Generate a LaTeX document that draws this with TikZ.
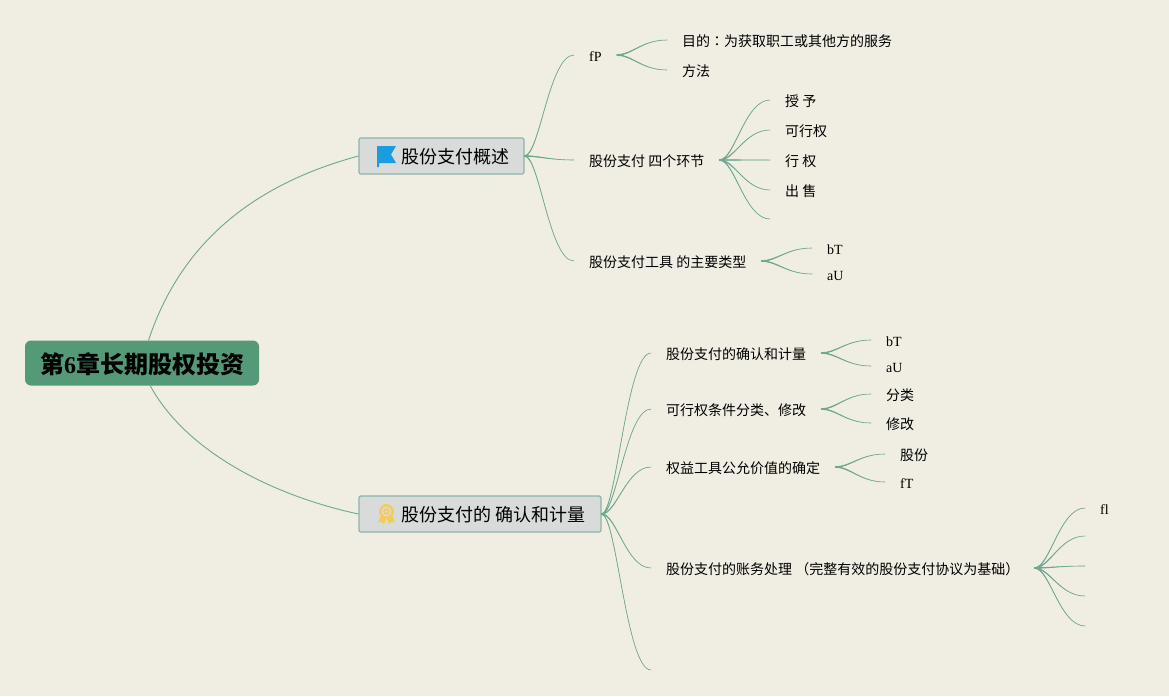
\documentclass[tikz,border=0pt]{standalone}
\usepackage{fontspec}
\usepackage{xcolor}
\usetikzlibrary{calc}
\setmainfont{Liberation Serif}
\newfontfamily\cjk{Noto Sans CJK SC}
\newfontfamily\cjktc{Noto Sans CJK TC}
\definecolor{paper}{HTML}{F0EDE3}
\definecolor{twig}{HTML}{6FA78F}
\definecolor{rootgreen}{HTML}{559A78}
\definecolor{topicgray}{HTML}{D8DBDA}
\definecolor{topicline}{HTML}{8DB4A8}
\definecolor{flagblue}{HTML}{1C9CE0}
\definecolor{medalgold}{HTML}{F3CB55}
\tikzset{
    rootbox/.style={rectangle, rounded corners=6pt, fill=rootgreen, minimum width=234pt, minimum height=45pt, inner sep=0pt, text height=22pt, text depth=1pt, font=\fontsize{24}{28}\selectfont\bfseries},
    topicbox/.style={rectangle, rounded corners=2pt, draw=topicline, line width=1.2pt, fill=topicgray, minimum height=36pt, inner sep=0pt, text height=15pt, text depth=1pt, font=\fontsize{18}{22}\selectfont\cjk},
    leaf/.style={anchor=west, inner xsep=15pt, inner ysep=0pt, text height=14pt, text depth=2pt, font=\fontsize{14}{16}\selectfont},
    leafcn/.style={leaf, font=\fontsize{14}{16}\selectfont\cjk},
    twigline/.style={twig, line width=0.6pt},
    mainline/.style={twig, line width=0.9pt}
}
\begin{document}
\begin{tikzpicture}[x=1pt, y=-1pt]
        \useasboundingbox (0, 0) rectangle (1169, 696);
        \fill[paper] (0, 0) rectangle (1169, 696);

        % root and main topics
        \node[rootbox] (root) at (142, 363) {{\cjk 第}6{\cjk 章长期股权投资}};
        \node[topicbox, minimum width=165pt] (topic1) at (441.5, 156) {\hspace{27pt}股份支付概述};
        \node[topicbox, minimum width=242pt] (topic2) at (480, 514) {\hspace{27pt}股份支付的 确认和计量};

        % icons
        \fill[flagblue] (377, 146) -- (396, 146) -- (391, 154.5) -- (396, 163) -- (379, 163) -- (379, 167) -- (377, 167) -- cycle;
        \draw[medalgold, line width=2.4pt] (386.5, 511.5) circle (6.2);
        \draw[medalgold, line width=1.6pt] (386.5, 511.5) circle (2.4);
        \fill[medalgold] (381, 516) -- (378, 522) -- (382, 522) -- (384, 524) -- (386, 519) -- cycle;
        \fill[medalgold] (392, 516) -- (395, 522) -- (391, 522) -- (389, 524) -- (387, 519) -- cycle;

        % first topic
        \begin{scope}[name prefix=intro-]
            \node[leaf] (fp) at (574, 55) {fP};
            \node[leafcn] (fp1) at (667, 40) {目的{\cjktc ：}为获取职工或其他方的服务};
            \node[leafcn] (fp2) at (667, 70) {方法};
            \node[leafcn] (steps) at (574, 160) {股份支付 四个环节};
            \node[leafcn] (steps1) at (770, 100) {授 予};
            \node[leafcn] (steps2) at (770, 130) {可行权};
            \node[leafcn] (steps3) at (770, 160) {行 权};
            \node[leafcn] (steps4) at (770, 190) {出 售};
            \coordinate (steps5) at (770, 219);
            \node[leafcn] (tools) at (574, 261) {股份支付工具 的主要类型};
            \node[leaf] (tools1) at (812, 248) {bT};
            \node[leaf] (tools2) at (812, 274) {aU};
        \end{scope}

        % second topic
        \begin{scope}[name prefix=rec-]
            \node[leafcn] (calc) at (651, 353) {股份支付的确认和计量};
            \node[leaf] (calc1) at (871, 340) {bT};
            \node[leaf] (calc2) at (871, 366) {aU};
            \node[leafcn] (cond) at (651, 409) {可行权条件分类、修改};
            \node[leafcn] (cond1) at (871, 394) {分类};
            \node[leafcn] (cond2) at (871, 423) {修改};
            \node[leafcn] (fair) at (651, 467) {权益工具公允价值的确定};
            \node[leafcn] (fair1) at (885, 454) {股份};
            \node[leaf] (fair2) at (885, 482) {fT};
            \node[leafcn] (acct) at (651, 568) {股份支付的账务处理 （完整有效的股份支付协议为基础）};
            \node[leaf] (acct1) at (1085, 508) {fl};
            \coordinate (acct2) at (1085, 536);
            \coordinate (acct3) at (1085, 566);
            \coordinate (acct4) at (1085, 596);
            \coordinate (acct5) at (1085, 626);
            \coordinate (last) at (651, 670);
        \end{scope}

        % main branches
        \draw[mainline] (root.74) .. controls (185, 230) and (270, 180) .. (topic1.west);
        \draw[mainline] (root.-70) .. controls (185, 450) and (270, 495) .. (topic2.west);

        % twigs, thicker where they leave the parent
        \foreach \from/\to in {
            topic1.east/intro-fp.west, topic1.east/intro-steps.west, topic1.east/intro-tools.west,
            intro-fp.east/intro-fp1.west, intro-fp.east/intro-fp2.west,
            intro-steps.east/intro-steps1.west, intro-steps.east/intro-steps2.west,
            intro-steps.east/intro-steps3.west, intro-steps.east/intro-steps4.west, intro-steps.east/intro-steps5,
            intro-tools.east/intro-tools1.west, intro-tools.east/intro-tools2.west,
            topic2.east/rec-calc.west, topic2.east/rec-cond.west, topic2.east/rec-fair.west,
            topic2.east/rec-acct.west, topic2.east/rec-last,
            rec-calc.east/rec-calc1.west, rec-calc.east/rec-calc2.west,
            rec-cond.east/rec-cond1.west, rec-cond.east/rec-cond2.west,
            rec-fair.east/rec-fair1.west, rec-fair.east/rec-fair2.west,
            rec-acct.east/rec-acct1.west, rec-acct.east/rec-acct2, rec-acct.east/rec-acct3,
            rec-acct.east/rec-acct4, rec-acct.east/rec-acct5} {
            \filldraw[twigline] let \p1 = (\from), \p2 = (\to) in
                ($(\p1) + (0, 0.4)$) .. controls ({\x1 + 0.3*(\x2 - \x1)}, {\y1 - 0.4pt}) and ({\x1 + 0.5*(\x2 - \x1)}, \y2) .. (\p2)
                .. controls ({\x1 + 0.5*(\x2 - \x1)}, \y2) and ({\x1 + 0.3*(\x2 - \x1)}, {\y1 + 0.4pt}) .. ($(\p1) + (0, -0.4)$) -- cycle;
        }
    \end{tikzpicture}
\end{document}
